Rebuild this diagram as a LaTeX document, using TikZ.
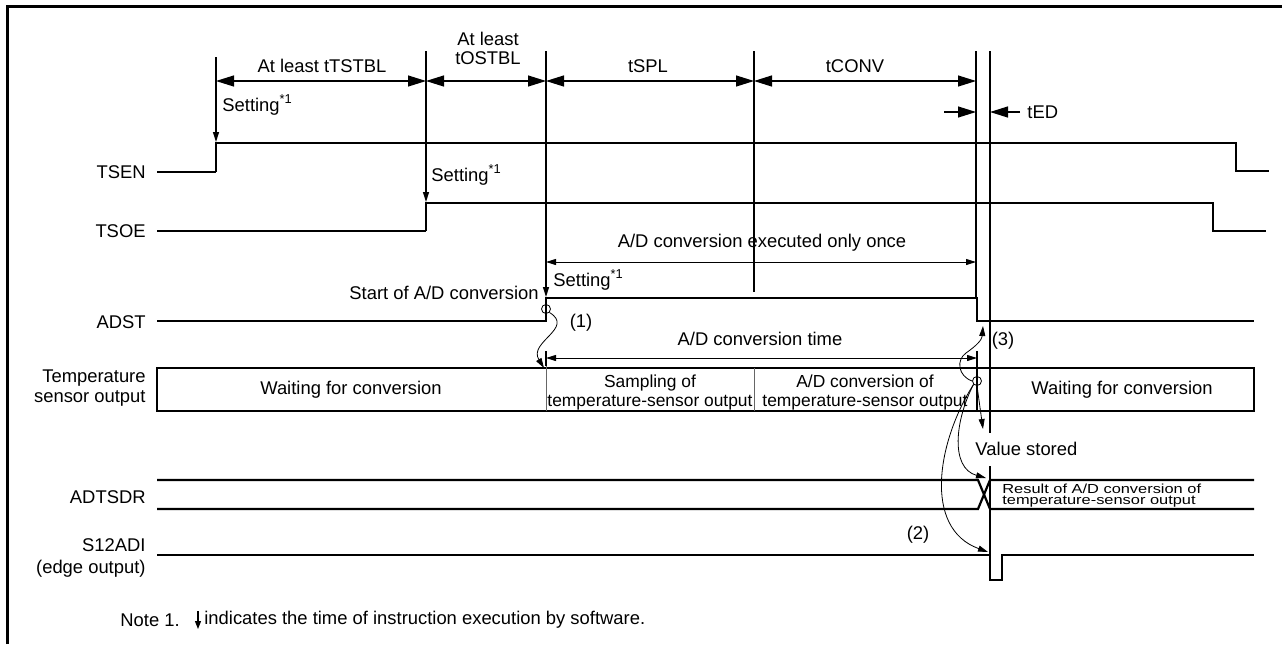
\documentclass[tikz,border=0pt]{standalone}
\usepackage{fontspec}
\usepackage{graphicx}
\setmainfont{Liberation Sans}
\usetikzlibrary{arrows.meta}
\begin{document}
\begin{tikzpicture}[x=0.5pt,y=-0.5pt,
  font=\fontsize{9.2}{10.5}\selectfont,
  sig/.style={line width=1.1pt},
  fine/.style={line width=0.6pt},
  vline/.style={line width=0.75pt},
  divl/.style={line width=0.5pt,black!60},
  dim/.style={line width=0.6pt,{Triangle[length=9pt,width=5.5pt]}-{Triangle[length=9pt,width=5.5pt]}},
  bigarr/.style={line width=0.6pt,-{Triangle[length=9pt,width=5.5pt]}},
  sdim/.style={line width=0.5pt,{Triangle[length=5pt,width=3pt]}-{Triangle[length=5pt,width=3pt]}},
  setarr/.style={line width=0.75pt,-{Triangle[length=5pt,width=3pt]}},
  crv/.style={line width=0.4pt,-{Triangle[length=5pt,width=3pt]}},
  lbl/.style={inner sep=0pt,anchor=east,align=right},
  txt/.style={inner sep=0pt},
  wtxt/.style={inner sep=0pt,anchor=west},
  boxtxt/.style={inner sep=0pt,align=center,font=\fontsize{8.7}{9.5}\selectfont},
]
\useasboundingbox (0,0) rectangle (1282,644);
% frame
\draw[line width=1.5pt] (7,644) -- (7,6) -- (1282,6);

% key coordinates
\coordinate (t1) at (216,81);
\coordinate (t2) at (426,81);
\coordinate (t3) at (546,81);
\coordinate (t4) at (754,81);
\coordinate (t5) at (976,81);

% vertical timing lines
\draw[setarr] (216,57) -- (216,142);
\draw[setarr] (426,51) -- (426,202);
\draw[setarr] (546,51) -- (546,297);
\draw[vline] (754,51) -- (754,292);
\draw[vline] (976,51) -- (976,298);
\draw[vline] (990,51) -- (990,433);
\draw[vline] (990,466) -- (990,555);

% top dimensions
\draw[dim] (t1) -- (t2);
\draw[dim] (t2) -- (t3);
\draw[dim] (t3) -- (t4);
\draw[dim] (t4) -- (t5);
\node[txt] (d1) at (322,66) {At least tTSTBL};
\node[txt,align=center,font=\fontsize{9.2}{9.5}\selectfont] (d2) at (488,48) {At least\\tOSTBL};
\node[txt] (d3) at (648,66) {tSPL};
\node[txt] (d4) at (855,66) {tCONV};

% tED
\coordinate (ed1) at (944,112);
\coordinate (ed2) at (976,112);
\coordinate (ed3) at (1020,112);
\coordinate (ed4) at (990,112);
\draw[bigarr] (ed1) -- (ed2);
\draw[bigarr] (ed3) -- (ed4);
\node[wtxt] (ted) at (1027,112) {tED};

% signal labels
\node[lbl] (lTSEN) at (146,172) {TSEN};
\node[lbl] (lTSOE) at (146,231) {TSOE};
\node[lbl] (lADST) at (146,322) {ADST};
\node[lbl,font=\fontsize{9.2}{10}\selectfont] (lTEMP) at (146,388) {Temperature\\sensor output};
\node[lbl] (lADTSDR) at (146,497) {ADTSDR};
\node[lbl,font=\fontsize{9.2}{11}\selectfont] (lS12) at (146,558) {S12ADI\\(edge output)};

% TSEN
\draw[sig] (157,172) -- (216,172);
\draw[fine] (216,172) -- (216,143) -- (1236,143) -- (1236,171) -- (1269,171);
\node[wtxt] (s1) at (222,105) {Setting\textsuperscript{*1}};

% TSOE
\draw[sig] (157,231) -- (426,231);
\draw[fine] (426,231) -- (426,203) -- (1213,203) -- (1213,231) -- (1266,231);
\node[wtxt] (s2) at (431,175) {Setting\textsuperscript{*1}};

% ADST
\draw[sig] (157,321) -- (546,321) -- (546,298) -- (977,298) -- (977,321) -- (1254,321);
\node[wtxt] (s3) at (553,280) {Setting\textsuperscript{*1}};
\node[lbl] (start) at (539,293) {Start of A/D conversion};
\draw[sdim] (546,262) -- (976,262);
\node[txt] (once) at (762,243) {A/D conversion executed only once};

% A/D conversion time
\draw[fine] (546,351) -- (546,366);
\draw[sdim] (546,358) -- (977,358);
\node[txt] (convt) at (760,339) {A/D conversion time};

% temperature sensor output box
\draw[sig] (157,368) rectangle (1254,411);
\draw[divl] (546,366) -- (546,411);
\draw[divl] (754,368) -- (754,411);
\draw[fine] (977,351) -- (977,411);
\node[txt] (w1) at (351,390) {Waiting for conversion};
\node[boxtxt] (samp) at (650,392) {Sampling of\\temperature-sensor output};
\node[boxtxt] (adc) at (865,392) {A/D conversion of\\temperature-sensor output};
\node[txt] (w2) at (1122,390) {Waiting for conversion};

% circles
\node[circle,draw,line width=0.4pt,inner sep=0pt,minimum size=4.5pt] (c1) at (546,309) {};
\node[circle,draw,line width=0.4pt,inner sep=0pt,minimum size=4.5pt] (c3) at (977,381) {};

% (1)
\draw[crv] (c1.south east) .. controls (575,328) and (528,342) .. (544,368);
\node[txt] (n1) at (581,323) {(1)};

% (3)
\draw[crv] (c3.west) .. controls (958,376) and (956,360) .. (966,353) .. controls (976,346) and (982,340) .. (983,326);
\node[txt] (n3) at (1003,341) {(3)};

% Value stored
\draw[crv] (c3.south) -- (983,429);
\node[wtxt] (vs) at (975,449) {Value stored};

% ADTSDR
\draw[sig] (157,480) -- (978,480) -- (990,509) -- (1254,509);
\draw[sig] (157,509) -- (978,509) -- (990,480) -- (1254,480);
\node[wtxt] (r1) at (1002,489) {\fontsize{8.2}{8}\selectfont\scalebox{1}[0.8]{Result of A/D conversion of}};
\node[wtxt] (r2) at (1002,501.5) {\fontsize{8.2}{8}\selectfont\scalebox{1}[0.8]{temperature-sensor output}};
\draw[crv] (c3.south west) .. controls (955,420) and (950,468) .. (986,478);

% S12ADI
\draw[sig] (157,555) -- (990,555) -- (990,580) -- (1002,580) -- (1002,555) -- (1254,555);
\draw[crv] (c3.south west) .. controls (938,440) and (922,528) .. (988,552);
\node[txt] (n2) at (918,535) {(2)};

% note
\node[wtxt] (note) at (120,620) {Note 1.};
\draw[line width=0.6pt,-{Triangle[length=4pt,width=3pt]}] (198,611) -- (198,629);
\node[wtxt] (notet) at (204,620) {indicates the time of instruction execution by software.};
\end{tikzpicture}
\end{document}
